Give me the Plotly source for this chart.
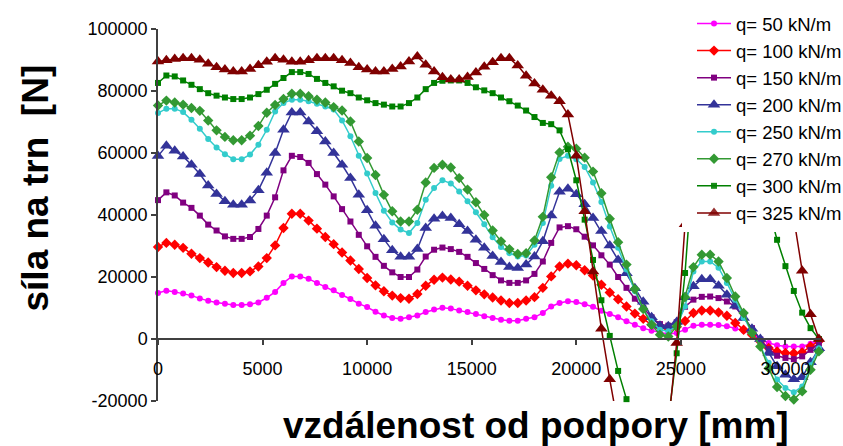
import plotly.graph_objects as go

x_mm = [0, 400, 800, 1200, 1600, 2000, 2400, 2800, 3200, 3600,
        4000, 4400, 4800, 5200, 5600, 6000, 6400, 6800, 7200, 7600,
        8000, 8400, 8800, 9200, 9600, 10000, 10400, 10800, 11200, 11600,
        12000, 12400, 12800, 13200, 13600, 14000, 14400, 14800, 15200, 15600,
        16000, 16400, 16800, 17200, 17600, 18000, 18400, 18800, 19200, 19600,
        20000, 20400, 20800, 21200, 21600, 22000, 22400, 22800, 23200, 23600,
        24000, 24400, 24800, 25200, 25600, 26000, 26400, 26800, 27200, 27600,
        28000, 28400, 28800, 29200, 29600, 30000, 30400, 30800, 31200, 31600]

q50 = [14800, 15600, 15200, 14700, 14000, 13100, 12300, 11800, 11400, 11000,
       11000, 11200, 11800, 13300, 15200, 18100, 20200, 20200, 19400, 18100,
       16800, 15700, 14200, 12900, 11400, 10300, 8800, 7600, 6800, 6500,
       7000, 7600, 8700, 9500, 10100, 9800, 9200, 8700, 8100, 7300,
       6800, 6200, 5900, 5900, 6500, 7000, 8400, 10500, 11600, 12200,
       11900, 11200, 10400, 9100, 8100, 7000, 5700, 4600, 3500, 2700,
       2100, 1600, 1900, 3000, 4300, 4600, 4600, 4500, 4100, 3400,
       2700, 1600, 0, -1300, -2000, -2400, -2400, -2400, -1500, -800]

q100 = [29700, 31000, 30400, 29400, 27500, 26100, 24700, 23200, 22000, 21300,
        21300, 21800, 23400, 26100, 30200, 35800, 40400, 40400, 38200, 35600,
        32900, 30600, 27900, 25300, 22600, 19700, 17300, 15400, 14000, 13200,
        13000, 14500, 17200, 19100, 19800, 19200, 18500, 17200, 15700, 14400,
        13400, 12400, 11600, 11600, 12400, 13500, 16500, 20200, 23400, 24300,
        23800, 22200, 20500, 17500, 15000, 12800, 10500, 8200, 6500, 4600,
        3800, 3300, 3900, 5800, 8400, 9200, 9200, 8600, 7500, 5200,
        3000, 1400, -800, -2900, -4000, -4500, -4600, -4300, -2400, -700]

q150 = [44800, 47300, 46300, 44000, 42300, 39800, 36900, 35000, 33100, 32300,
        32300, 32900, 35500, 39800, 45700, 54400, 59100, 58700, 56800, 53200,
        49800, 46000, 41900, 37900, 33600, 29900, 26500, 23600, 21500, 20000,
        20000, 22400, 26600, 28800, 29500, 29000, 28100, 26500, 24500, 22600,
        20600, 18900, 18100, 18100, 18900, 21000, 25000, 31000, 36000, 36400,
        35400, 33000, 30200, 27000, 24000, 20000, 16500, 13000, 10000, 7000,
        4800, 4300, 5400, 10400, 12700, 13600, 13700, 13200, 12100, 10500,
        6800, 3500, -200, -3200, -5400, -6100, -6500, -5600, -3500, -1300]

q200 = [59000, 62300, 60700, 58900, 56200, 53200, 49500, 46800, 44400, 43300,
        43300, 44700, 48000, 53600, 60000, 67500, 73100, 73100, 70200, 67000,
        63700, 60000, 56200, 51900, 46500, 41500, 36500, 32200, 28600, 26500,
        26500, 29000, 35800, 38800, 39700, 39000, 37000, 34800, 32000, 29400,
        26800, 24800, 23200, 22900, 24000, 26600, 31500, 39800, 47500, 48500,
        46700, 43500, 39000, 34800, 30200, 25500, 21200, 16400, 12000, 7000,
        4300, 4100, 5500, 13500, 17000, 19300, 19300, 17200, 14300, 10700,
        6800, 3300, 0, -4500, -8800, -11500, -13000, -12300, -7500, -3000]

q250 = [72900, 74300, 74300, 73200, 70700, 67800, 64500, 61800, 59600, 58000,
        58000, 59500, 62700, 67500, 73400, 76100, 77200, 77200, 76700, 75900,
        75000, 74000, 70500, 65400, 59100, 53400, 47100, 41400, 37600, 35300,
        34200, 37400, 44900, 48700, 51200, 50200, 47600, 44400, 40900, 37000,
        32800, 29700, 27700, 26600, 26900, 30400, 37400, 49400, 58100, 59100,
        58000, 55500, 50500, 44200, 36300, 29400, 22400, 15400, 9500, 5700,
        3000, 2500, 4100, 10500, 21800, 25000, 25000, 23000, 18100, 12700,
        6800, 1900, -2400, -7700, -13100, -15800, -17200, -15300, -8500, -3000]

q270 = [75300, 76900, 76300, 75600, 74500, 73600, 70500, 67300, 65200, 64100,
        64100, 65600, 68700, 73000, 75500, 77400, 79100, 79100, 78300, 77200,
        76300, 74800, 73700, 70200, 63700, 58400, 52900, 46500, 41200, 37900,
        37900, 41700, 50500, 55200, 56200, 55300, 51900, 48200, 44100, 40000,
        35000, 31500, 29000, 27400, 27700, 31800, 39400, 52200, 60200, 62000,
        61400, 58500, 54000, 47000, 38800, 31200, 24000, 16100, 9700, 4600,
        1400, 800, 4100, 13500, 23200, 27200, 27200, 25000, 19700, 13700,
        8400, 1900, -2400, -9400, -15500, -18400, -19500, -16900, -9900, -4000]

q300 = [82600, 85000, 84700, 83400, 82000, 80600, 79300, 78500, 77900, 77400,
        77400, 77900, 79000, 80400, 82300, 84200, 86100, 86100, 85500, 83900,
        82600, 81500, 80100, 79300, 77900, 77000, 76100, 75600, 75000, 75000,
        76100, 77900, 80600, 82600, 83300, 83400, 83400, 82600, 81200, 80200,
        79300, 77900, 76700, 75300, 73700, 71600, 69700, 69300, 67300, 61200,
        51200, 38500, 25500, 12500, 1000, -10300, -19400, -29000, -37000, -41000,
        -38000, -26000, -4600, 21300, 58000, 85000, 100000, 108000, 110000, 104000,
        92000, 76000, 59000, 42000, 32000, 23500, 15500, 8500, 3500, 0]

q325 = [89500, 89900, 90300, 90600, 90600, 90100, 88800, 87700, 86900, 86300,
        86300, 87100, 88300, 89400, 90600, 90100, 89400, 89400, 89900, 90600,
        90600, 90600, 89900, 89000, 87700, 86900, 86300, 86300, 87100, 87900,
        89500, 91100, 88500, 86300, 84400, 83700, 83700, 84500, 86000, 87800,
        89300, 90600, 90600, 88200, 84900, 82400, 80400, 78500, 76700, 72400,
        59100, 41200, 21800, 3300, -13000, -29000, -43000, -54000, -60000, -58000,
        -47000, -28000, -1300, 37000, 90000, 120000, 140000, 150000, 150000, 140000,
        125000, 105000, 85000, 70000, 58000, 48000, 39000, 22000, 8000, 0]

names = ["q= 50 kN/m", "q= 100 kN/m", "q= 150 kN/m", "q= 200 kN/m",
         "q= 250 kN/m", "q= 270 kN/m", "q= 300 kN/m", "q= 325 kN/m"]
values = [q50, q100, q150, q200, q250, q270, q300, q325]
colors = ["#FF00FF", "#FF0000", "#800080", "#333399",
          "#33CCCC", "#339933", "#008000", "#800000"]
symbols = ["circle", "diamond", "square", "triangle-up",
           "circle", "diamond", "square", "triangle-up"]
sizes = [6, 8, 6, 11, 6, 8, 6, 11]

x_ticks = [0, 5000, 10000, 15000, 20000, 25000, 30000]
y_ticks = [-20000, 0, 20000, 40000, 60000, 80000, 100000]
y_min, y_max = -20000, 100000

# plot-area geometry in pixels (for placing paper-referenced items)
L, R, T, B = 158, 821, 29, 401
W, H = R - L, B - T

def px_x(p):
    return (p - L) / W

def px_y(p):
    return (B - p) / H

fig = go.Figure()
for name, vals, col, sym, sz in zip(names, values, colors, symbols, sizes):
    op = [1 if y_min <= v <= y_max else 0 for v in vals]
    fig.add_trace(go.Scatter(
        x=x_mm, y=vals, name=name, mode="lines+markers",
        line=dict(color=col, width=1.5),
        marker=dict(symbol=sym, size=sz, color=col, opacity=op),
        cliponaxis=False))

fig.update_layout(
    width=843, height=446,
    margin=dict(l=L, r=843 - R, t=T, b=446 - B, autoexpand=False),
    paper_bgcolor="white", plot_bgcolor="white",
    font=dict(family="Arial, Liberation Sans, sans-serif", size=18, color="black"),
    xaxis=dict(range=[0, 31700], tickvals=x_ticks, ticktext=[str(v) for v in x_ticks],
               showline=True, linecolor="#404040", linewidth=1.5,
               ticks="outside", ticklen=5, tickcolor="#404040", tickwidth=1.5,
               showgrid=False, zeroline=False, anchor="free",
               position=(0 - y_min) / (y_max - y_min),
               ticklabelstandoff=9, tickfont=dict(size=18)),
    yaxis=dict(range=[y_min, y_max], tickvals=y_ticks, ticktext=[str(v) for v in y_ticks],
               showline=True, linecolor="#404040", linewidth=1.5,
               ticks="outside", ticklen=5, tickcolor="#404040", tickwidth=1.5,
               showgrid=False, zeroline=False, tickfont=dict(size=18)),
    legend=dict(x=px_x(682), y=px_y(5), xanchor="left", yanchor="top",
                bgcolor="white", borderwidth=0, font=dict(size=18.5),
                indentation=10, itemwidth=34,
                tracegroupgap=0, maxheight=400),
    showlegend=True,
    shapes=[dict(type="rect", xref="paper", yref="paper",
                 x0=px_x(682), x1=px_x(845), y0=px_y(224), y1=px_y(0),
                 fillcolor="white", line=dict(width=0), layer="above")],
    annotations=[
        dict(text="<b>síla na trn\u00a0 [N]</b>", xref="paper", yref="paper",
             x=px_x(35.5), y=px_y(188), textangle=-90,
             xanchor="center", yanchor="middle", showarrow=False,
             font=dict(size=37, color="black")),
        dict(text="<b>vzdálenost od podpory [mm]</b>", xref="paper", yref="paper",
             x=px_x(536), y=px_y(425.5),
             xanchor="center", yanchor="middle", showarrow=False,
             font=dict(size=37, color="black")),
    ],
)

fig.write_html("out.html")
